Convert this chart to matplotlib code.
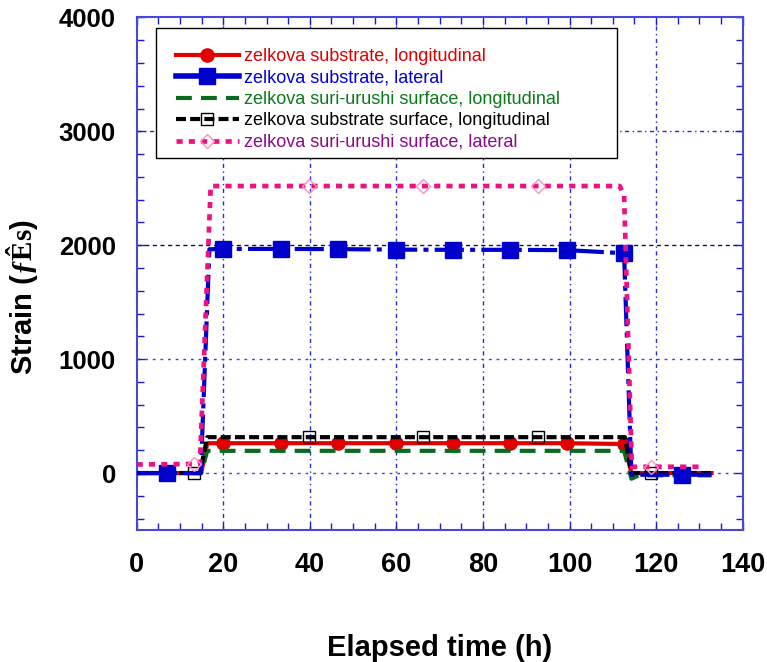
import matplotlib
matplotlib.use("Agg")
import matplotlib.pyplot as plt
from matplotlib.lines import Line2D
from matplotlib.patches import Rectangle
from matplotlib.ticker import MultipleLocator

plt.rcParams['font.family'] = ['Liberation Sans', 'DejaVu Sans']
plt.rcParams['mathtext.fontset'] = 'custom'
plt.rcParams['mathtext.rm'] = 'Liberation Serif:bold'
plt.rcParams['mathtext.bf'] = 'Liberation Serif:bold'
plt.rcParams['mathtext.it'] = 'Liberation Serif:bold:italic'

# ---- strain records (time in hours, strain in micro-strain) ----
t_sub_long = [0, 7.1, 14.9, 16.3, 20.0, 33.3, 46.6, 59.8, 73.1, 86.3, 99.5, 112.6, 114.3, 125.9, 132.8]
s_sub_long = [0, 0, 0, 262, 262, 262, 262, 262, 262, 262, 262, 255, 0, 0, 0]
mk_sub_long = [1, 4, 5, 6, 7, 8, 9, 10, 11, 13]

t_sub_lat = [0, 7.1, 14.8, 16.8, 20.0, 33.3, 46.6, 59.8, 73.1, 86.3, 99.5, 112.6, 114.3, 125.9, 132.8]
s_sub_lat = [0, 0, 0, 1965, 1968, 1968, 1966, 1962, 1960, 1960, 1957, 1930, -15, -15, -15]
mk_sub_lat = [1, 4, 5, 6, 7, 8, 9, 10, 11, 13]

t_suri_long = [0, 14.9, 16.3, 112.6, 114.3, 116.0, 132.8]
s_suri_long = [0, 0, 195, 195, -50, -20, -20]

t_subsurf_long = [0, 13.2, 14.6, 16.3, 39.8, 66.1, 92.6, 112.8, 114.3, 118.9, 132.8]
s_subsurf_long = [0, 0, 0, 315, 315, 315, 315, 315, 0, 0, 0]
mk_subsurf_long = [1, 4, 5, 6, 9]

t_suri_lat = [0, 13.2, 14.6, 17.1, 39.8, 66.1, 92.6, 111.6, 112.6, 114.4, 118.9, 130.5]
s_suri_lat = [75, 80, 80, 2520, 2520, 2520, 2520, 2520, 2440, 55, 55, 55]
mk_suri_lat = [1, 4, 5, 6, 10]

labels = [
    "zelkova substrate, longitudinal",
    "zelkova substrate, lateral",
    "zelkova suri-urushi surface, longitudinal",
    "zelkova substrate surface, longitudinal",
    "zelkova suri-urushi surface, lateral",
]
label_colors = ["#e00000", "#0000dd", "#0a7a1a", "#000000", "#8a0a8a"]

x_ticks = [0, 20, 40, 60, 80, 100, 120, 140]
y_ticks = [0, 1000, 2000, 3000, 4000]

fig = plt.figure(figsize=(7.67, 6.62), dpi=100)
ax = fig.add_axes([0.1782, 0.1994, 0.7901, 0.7742])

l1, = ax.plot(t_sub_long, s_sub_long, color="#e00000", lw=3, marker="o",
              markersize=9.5, markevery=mk_sub_long, zorder=3)
l3, = ax.plot(t_suri_long, s_suri_long, color="#0a6a1e", lw=3,
              dashes=(3.8, 2.2), zorder=4)
l4, = ax.plot(t_subsurf_long, s_subsurf_long, color="#000000", lw=3,
              dashes=(2.4, 1.0), marker="s", markersize=8.5, markerfacecolor="none",
              markeredgecolor="#000000", markeredgewidth=1.0,
              markevery=mk_subsurf_long, zorder=5)
l2, = ax.plot(t_sub_lat, s_sub_lat, color="#0000cc", lw=3,
              dashes=(7, 1.5, 1.2, 1.5), marker="s", markersize=11,
              markevery=mk_sub_lat, zorder=6)
l5, = ax.plot(t_suri_lat, s_suri_lat, color="#ee1184", lw=3.4,
              dashes=(1.3, 1.3), marker="D", markersize=7.5, markerfacecolor="none",
              markeredgecolor="#ff8fc0", markeredgewidth=1.0,
              markevery=mk_suri_lat, zorder=7)

# grid lines
for xv in x_ticks[1:-1]:
    ax.axvline(xv, color="#2a2ad0", lw=1.0, dashes=(3, 2.5, 1, 2.5), zorder=1)
ax.axhline(3000, color="#2a2ad0", lw=1.0, dashes=(3, 2.5, 1, 2.5), zorder=1)
ax.axhline(2000, color="#101060", lw=1.0, dashes=(3, 2.5), zorder=1)
ax.axhline(1000, color="#4040e0", lw=1.0, dashes=(2, 3.5), zorder=1)
ax.axhline(0, color="#4040e0", lw=1.0, dashes=(2, 3.5), zorder=1)

ax.set_xlim(0, 140)
ax.set_ylim(-500, 4000)
ax.set_xticks(x_ticks)
ax.set_yticks(y_ticks)
ax.xaxis.set_minor_locator(MultipleLocator(5))
ax.yaxis.set_minor_locator(MultipleLocator(200))

for sp in ax.spines.values():
    sp.set_color("#4848d8")
    sp.set_linewidth(1.5)

ax.tick_params(which="both", direction="in", top=True, right=True,
               color="#1a1ad0", width=1.0)
ax.tick_params(which="major", length=6)
ax.tick_params(which="minor", length=5)
ax.tick_params(axis="x", which="major", pad=16, labelsize=19.5)
ax.tick_params(axis="y", which="major", pad=15, labelsize=18.5)
for lab in ax.get_xticklabels() + ax.get_yticklabels():
    lab.set_fontweight("bold")

ax.set_xlabel("Elapsed time (h)", fontsize=21, fontweight="bold", labelpad=40)
ax.set_ylabel(r"Strain ($\mathit{ƒ}\mathbf{Ês}$)", fontsize=21, fontweight="bold")
ax.yaxis.set_label_coords(-0.160, 0.455)

# legend box
box_x0, box_x1, box_y0, box_y1 = 0.0318, 0.7926, 0.7259, 0.9795
ax.add_patch(Rectangle((box_x0, box_y0), box_x1 - box_x0, box_y1 - box_y0,
                       transform=ax.transAxes, facecolor="white",
                       edgecolor="black", lw=1.0, zorder=9))

# legend keys: the lateral substrate key is drawn as a solid line
h1 = Line2D([], [], color="#e00000", lw=3, marker="o", markersize=9.5)
h2 = Line2D([], [], color="#0000cc", lw=4, marker="s", markersize=11)
h3 = Line2D([], [], color="#0a6a1e", lw=3, dashes=(3.8, 2.2))
h4 = Line2D([], [], color="#000000", lw=3, dashes=(2.4, 1.0), marker="s",
            markersize=8.5, markerfacecolor="none", markeredgecolor="#000000",
            markeredgewidth=1.0)
h5 = Line2D([], [], color="#ee1184", lw=3.4, dashes=(1.3, 1.3), marker="D",
            markersize=7.5, markerfacecolor="none", markeredgecolor="#ff8fc0",
            markeredgewidth=1.0)

leg = ax.legend([h1, h2, h3, h4, h5], labels, loc="upper left",
                bbox_to_anchor=(box_x0, box_y1), borderaxespad=0, fontsize=13,
                handlelength=3.5, handletextpad=0.3, labelspacing=0.25,
                borderpad=1.1, numpoints=1, frameon=False)
leg.set_zorder(10)
for txt, c in zip(leg.get_texts(), label_colors):
    txt.set_color(c)

fig.savefig("out.png", dpi=100)
